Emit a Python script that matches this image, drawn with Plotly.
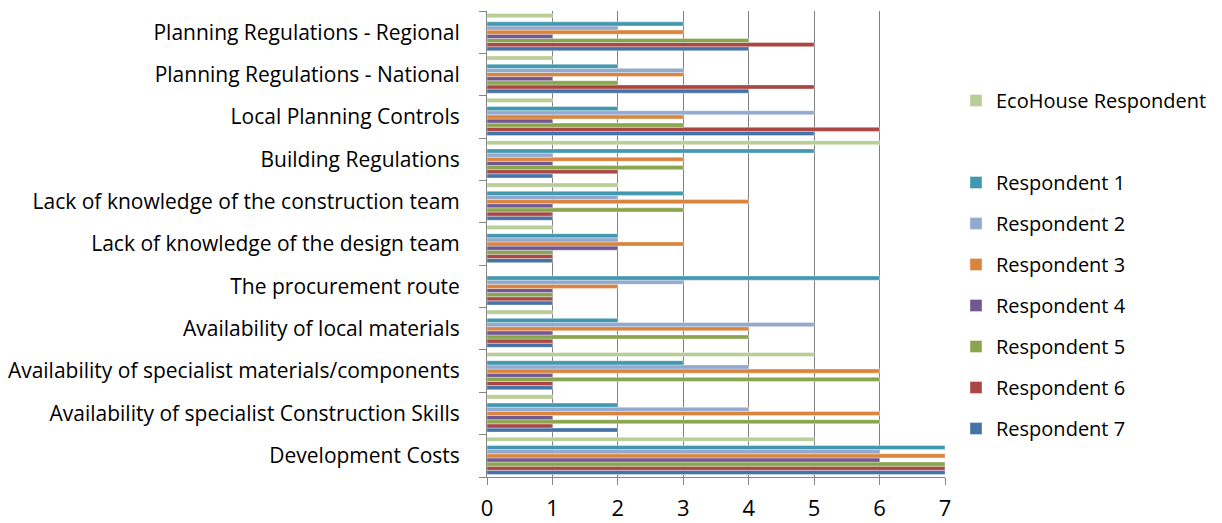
import plotly.graph_objects as go

categories = [
    "Development Costs",
    "Availability of specialist Construction Skills",
    "Availability of specialist materials/components",
    "Availability of local materials",
    "The procurement route",
    "Lack of knowledge of the design team",
    "Lack of knowledge of the construction team",
    "Building Regulations",
    "Local Planning Controls",
    "Planning Regulations - National",
    "Planning Regulations - Regional",
]

respondent_7 = [7, 2, 1, 1, 1, 1, 1, 1, 5, 4, 4]
respondent_6 = [7, 1, 1, 1, 1, 1, 1, 2, 6, 5, 5]
respondent_5 = [7, 6, 6, 4, 1, 1, 3, 3, 3, 2, 4]
respondent_4 = [6, 1, 1, 1, 1, 2, 1, 1, 1, 1, 1]
respondent_3 = [7, 6, 6, 4, 2, 3, 4, 3, 3, 3, 3]
respondent_2 = [6, 4, 4, 5, 3, 2, 2, 1, 5, 3, 2]
respondent_1 = [7, 2, 3, 2, 6, 2, 3, 5, 2, 2, 3]
blank_series = [0, 0, 0, 0, 0, 0, 0, 0, 0, 0, 0]
ecohouse = [5, 1, 5, 1, 0, 1, 2, 6, 1, 1, 1]

series = [
    ("Respondent 7", respondent_7, "#4572A7"),
    ("Respondent 6", respondent_6, "#AA4643"),
    ("Respondent 5", respondent_5, "#89A54E"),
    ("Respondent 4", respondent_4, "#71588F"),
    ("Respondent 3", respondent_3, "#DB843D"),
    ("Respondent 2", respondent_2, "#93A9CF"),
    ("Respondent 1", respondent_1, "#4198AF"),
    (" ", blank_series, "rgba(0,0,0,0)"),
    ("EcoHouse Respondent", ecohouse, "#B9CD96"),
]

FONT = "Open Sans, sans-serif"

fig = go.Figure()
n = len(series)
for i, (name, vals, color) in enumerate(series):
    fig.add_trace(go.Bar(
        y=categories,
        x=vals,
        name=name,
        orientation="h",
        marker=dict(color=color, line=dict(width=0.6, color="rgba(255,255,255,0.6)")),
        legendgroup=f"g{i}",
        legendrank=n - i,
        hoverinfo="x+y+name",
    ))

fig.update_layout(
    width=1222,
    height=523,
    barmode="group",
    bargap=0.12,
    bargroupgap=0,
    plot_bgcolor="white",
    paper_bgcolor="white",
    margin=dict(l=487, r=277, t=11, b=46, autoexpand=False),
    font=dict(family=FONT, size=21, color="#000000"),
    legend=dict(
        traceorder="grouped",
        tracegroupgap=12,
        xref="container",
        yref="container",
        x=956 / 1222,
        y=1 - 81 / 523,
        xanchor="left",
        yanchor="top",
        maxheight=430,
        font=dict(family=FONT, size=20),
        bgcolor="rgba(0,0,0,0)",
    ),
    xaxis=dict(
        range=[0, 7],
        dtick=1,
        showgrid=True,
        gridcolor="#808080",
        gridwidth=1.2,
        showline=True,
        linecolor="#868686",
        linewidth=1,
        ticks="outside",
        ticklen=7,
        tickcolor="#868686",
        tickfont=dict(family=FONT, size=22),
        ticklabelstandoff=5,
        zeroline=False,
        fixedrange=True,
        automargin=False,
    ),
    yaxis=dict(
        type="category",
        categoryorder="array",
        categoryarray=categories,
        tickson="boundaries",
        ticks="outside",
        ticklen=7,
        tickcolor="#868686",
        showline=True,
        linecolor="#868686",
        linewidth=1,
        showgrid=False,
        ticklabelstandoff=22,
        tickfont=dict(family=FONT, size=21),
        fixedrange=True,
        automargin=False,
    ),
)

fig.write_html("out.html")
